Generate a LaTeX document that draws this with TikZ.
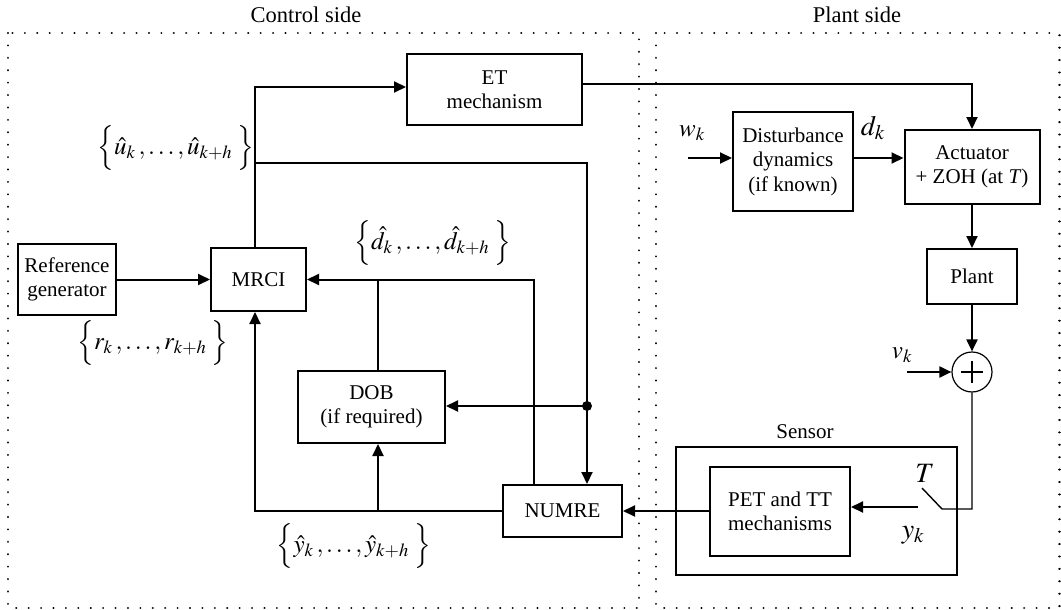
\documentclass[tikz,border=0pt]{standalone}
\usepackage{mathptmx}
\usepackage{fontspec}
\setmainfont{Liberation Serif}
\usetikzlibrary{arrows.meta}

\begin{document}
\begin{tikzpicture}[x=1pt,y=-1pt,
  blk/.style={draw, line width=2pt, inner sep=0pt, align=center,
    font=\fontsize{21}{24.5}\selectfont},
  conn/.style={line width=2pt},
  thinconn/.style={line width=1.4pt},
  arr/.style={conn, -{Triangle[length=12pt,width=11pt]}},
  frame/.style={line width=2.2pt, dash pattern=on 0.01pt off 12.4pt, line cap=round},
  lbl/.style={inner sep=0pt, font=\fontsize{21}{24.5}\selectfont},
  ttl/.style={inner sep=0pt, font=\fontsize{22.5}{26}\selectfont},
  mlbl/.style={inner sep=0pt, font=\fontsize{25}{29}\selectfont},
  biglbl/.style={inner sep=0pt, font=\fontsize{28}{32}\selectfont}]

\useasboundingbox (0,0) rectangle (1061,610);

% dotted frames of the two sides
\draw[frame] (8,33) rectangle (639,608);
\draw[frame] (656,33) rectangle (1059.5,608);
\node[ttl] (ctrltitle) at (306,15) {Control side};
\node[ttl] (planttitle) at (857,15) {Plant side};

% control-side blocks
\node[blk, minimum width=175pt, minimum height=71pt] (et) at (494.5,89.5) {ET\\mechanism};
\node[blk, minimum width=98pt, minimum height=71pt] (ref) at (67,279.5) {Reference\\generator};
\node[blk, minimum width=95pt, minimum height=63pt] (mrci) at (258.5,279.5) {MRCI};
\node[blk, minimum width=147pt, minimum height=72pt] (dob) at (371.5,407) {DOB\\(if required)};
\node[blk, minimum width=119pt, minimum height=52pt] (numre) at (562.5,511) {NUMRE};

% plant-side blocks
\node[blk, minimum width=120pt, minimum height=99pt] (dist) at (793,161.5) {Disturbance\\dynamics\\(if known)};
\node[blk, minimum width=135pt, minimum height=74pt] (act) at (972,167) {Actuator\\+ ZOH (at \textit{T})};
\node[blk, minimum width=90pt, minimum height=55pt] (plant) at (972,276.5) {Plant};
\node[draw, circle, line width=1.2pt, minimum size=40pt, inner sep=0pt] (sum) at (972,372) {};
\draw[line width=2.4pt] ([xshift=-11pt]sum.center) -- ([xshift=11pt]sum.center)
                        ([yshift=-11pt]sum.center) -- ([yshift=11pt]sum.center);
\node[blk, minimum width=281pt, minimum height=128pt] (sensor) at (816.5,511) {};
\node[lbl] (sensorlbl) at (805,432) {Sensor};
\node[blk, minimum width=140pt, minimum height=89pt] (pet) at (780,511.5) {PET and TT\\mechanisms};

% routing points
\coordinate (uT) at (255,87);
\coordinate (uBr) at (255,163);
\coordinate (tap) at (587,406);
\coordinate (etout) at (582,84);
\coordinate (dobx) at (378,0);
\coordinate (nux) at (534,0);
\coordinate (win) at (688,158);
\coordinate (vin) at (907,372);
\coordinate (swA) at (942,509);
\coordinate (swB) at (922,488);
\coordinate (yin) at (918,507);

% control-side connectors
\draw[arr] (ref.east) -- (mrci.west);
\draw[arr] (mrci.north -| uT) |- (et.west |- uT);
\draw[arr] (uBr) -| (numre.north -| tap);
\draw[arr] (tap) -- (dob.east |- tap);
\fill (tap) circle (5pt);
\draw[arr] (numre.west) -| (mrci.south -| uT);
\draw[arr] (numre.west -| dobx) -- (dob.south -| dobx);
\draw[arr] (numre.north -| nux) |- (mrci.east);
\draw[conn] (dob.north -| dobx) -- (mrci.east -| dobx);

% network links and plant-side connectors
\draw[arr] (etout) -| (act.north);
\draw[arr] (win) -- (dist.west |- win);
\draw[arr] (dist.east |- win) -- (act.west |- win);
\draw[arr] (act.south) -- (plant.north);
\draw[arr] (plant.south) -- (sum.north);
\draw[arr] (vin) -- (sum.west);
\draw[thinconn] (sum.south) |- (swA) -- (swB);
\draw[arr] (yin) -- (pet.east |- yin);
\draw[arr] (pet.west |- numre.east) -- (numre.east);

% signal labels
\node[mlbl] (ulbl) at (176,148) {$\Big\{\hat{u}_k\,,\ldots,\hat{u}_{k+h}\;\Big\}$};
\node[mlbl] (rlbl) at (153,343) {$\Big\{r_k\,,\ldots,r_{k+h}\;\Big\}$};
\node[mlbl] (dlbl) at (433,243) {$\Big\{\hat{d}_k\,,\ldots,\hat{d}_{k+h}\;\Big\}$};
\node[mlbl] (ylbl) at (354,546) {$\Big\{\hat{y}_k\,,\ldots,\hat{y}_{k+h}\;\Big\}$};
\node[mlbl] (wk) at (692,133) {$w_k$};
\node[biglbl] (dk) at (873,128) {$d_k$};
\node[mlbl] (vk) at (902,355) {$v_k$};
\node[biglbl] (Tlbl) at (925,473) {$T$};
\node[biglbl] (yk) at (913,535) {$y_k$};
\end{tikzpicture}
\end{document}
